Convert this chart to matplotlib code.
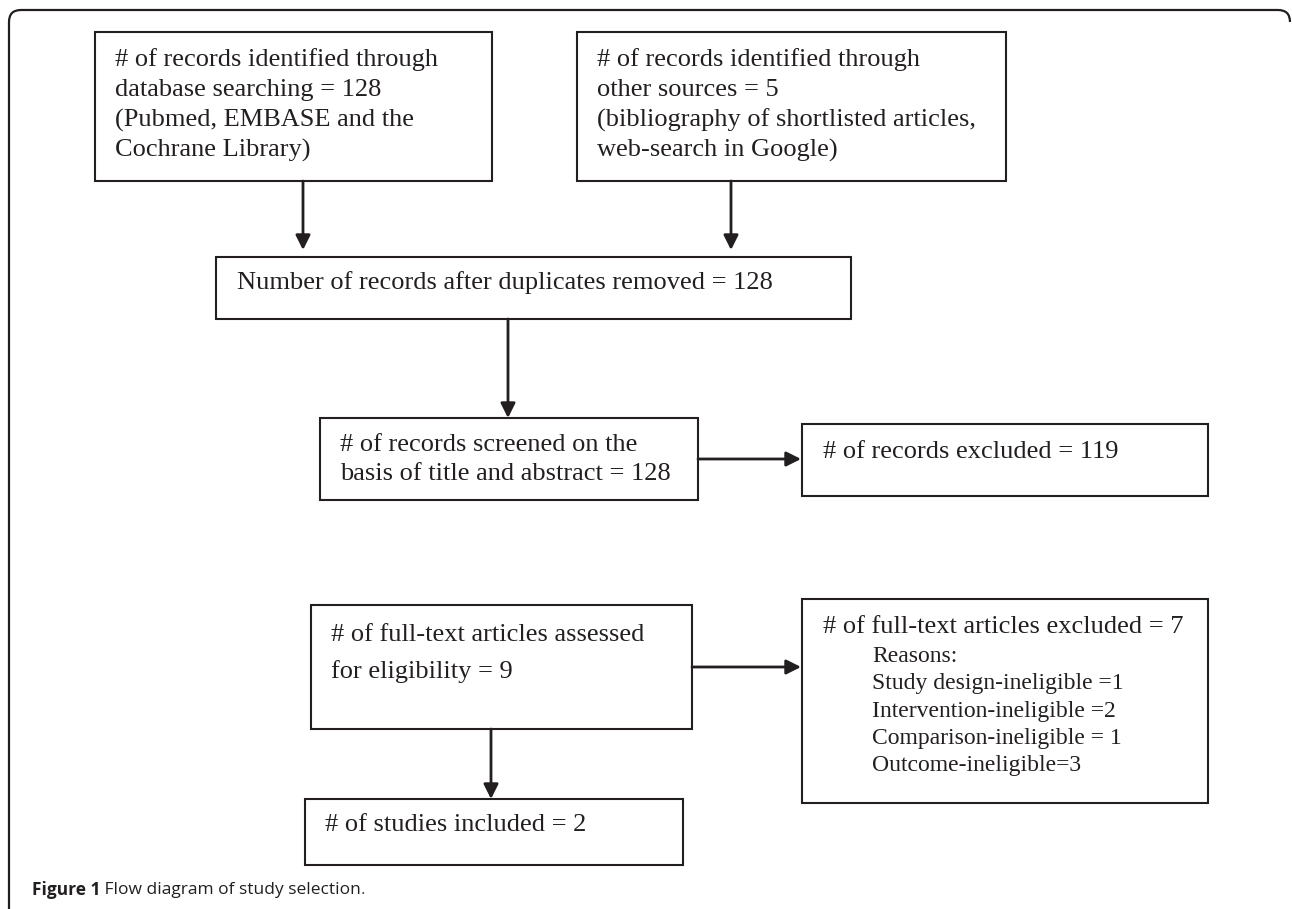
import matplotlib
matplotlib.use("Agg")
import matplotlib.pyplot as plt
from matplotlib.patches import Rectangle, FancyArrowPatch
from matplotlib.path import Path
from matplotlib.patches import PathPatch

# ---- content ----
box_db = ["# of records identified through", "database searching = 128",
          "(Pubmed, EMBASE and the", "Cochrane Library)"]
box_other = ["# of records identified through", "other sources = 5",
             "(bibliography of shortlisted articles,", "web-search in Google)"]
box_dup = ["Number of records after duplicates removed = 128"]
box_screen = ["# of records screened on the", "basis of title and abstract = 128"]
box_excl = ["# of records excluded = 119"]
box_full = ["# of full-text articles assessed", "for eligibility = 9"]
box_full_excl_head = "# of full-text articles excluded = 7"
box_full_excl_reasons = ["Reasons:", "Study design-ineligible =1",
                         "Intervention-ineligible =2",
                         "Comparison-ineligible = 1", "Outcome-ineligible=3"]
box_incl = ["# of studies included = 2"]
caption_bold = "Figure 1"
caption_rest = " Flow diagram of study selection"

# ---- layout (pixels) ----
W, H = 1292, 909
INK = "#231f20"
fig = plt.figure(figsize=(W / 100, H / 100), dpi=100)
ax = fig.add_axes([0, 0, 1, 1])
ax.set_xlim(0, W)
ax.set_ylim(H, 0)
ax.axis("off")

LW = 1.5
SERIF = "Liberation Serif"
FS = 19

def box(x0, y0, x1, y1):
    ax.add_patch(Rectangle((x0, y0), x1 - x0, y1 - y0, fill=False,
                           edgecolor=INK, linewidth=LW))

def lines(x, y0, texts, step=30, fs=FS):
    for i, t in enumerate(texts):
        ax.text(x, y0 + i * step, t, fontsize=fs, family=SERIF, color=INK,
                ha="left", va="center")

def arrow(x0, y0, x1, y1):
    ax.add_patch(FancyArrowPatch((x0, y0), (x1, y1), arrowstyle="-|>",
                                 mutation_scale=22, color=INK, linewidth=2.0,
                                 shrinkA=0, shrinkB=0))

# outer frame (rounded top corners, open bottom)
r = 12
verts = [(9, H), (9, 10 + r), (9, 10), (9 + r, 10), (W - r - 2, 10),
         (W - 2, 10), (W - 2, 10 + r)]
codes = [Path.MOVETO, Path.LINETO, Path.CURVE3, Path.CURVE3, Path.LINETO,
         Path.CURVE3, Path.CURVE3]
ax.add_patch(PathPatch(Path(verts, codes), fill=False, edgecolor=INK,
                       linewidth=1.6))

# boxes
box(95, 32, 492, 181)
lines(115, 60, box_db)
box(577, 32, 1006, 181)
lines(597, 60, box_other)
arrow(303, 181, 303, 250)
arrow(731, 181, 731, 250)

box(216, 257, 851, 319)
lines(237, 283, box_dup)
arrow(508, 319, 508, 418)

box(320, 418, 698, 500)
lines(340, 445, box_screen, step=29)
arrow(698, 459, 801, 459)
box(802, 424, 1208, 496)
lines(823, 452, box_excl)

box(311, 605, 692, 729)
lines(331, 635, box_full, step=37)
arrow(692, 667, 801, 667)
box(802, 599, 1208, 803)
lines(823, 627, [box_full_excl_head])
lines(872, 656, box_full_excl_reasons, step=27.5, fs=17)

arrow(491, 729, 491, 799)
box(305, 799, 683, 865)
lines(325, 825, box_incl)

# caption
CY = 890
t = ax.text(32, CY, caption_bold, fontsize=12.5, family="Open Sans",
            weight="bold", color=INK, ha="left", va="center")
fig.canvas.draw()
bb = t.get_window_extent()
x_end = ax.transData.inverted().transform((bb.x1, bb.y0))[0]
t2 = ax.text(x_end, CY, caption_rest, fontsize=12.5, family="Open Sans",
             color=INK, ha="left", va="center")
bb2 = t2.get_window_extent()
x_end2 = ax.transData.inverted().transform((bb2.x1, bb2.y0))[0]
ax.text(x_end2, CY, ".", fontsize=12.5, family="Open Sans", color="#555555",
        ha="left", va="center")

fig.savefig("out.png", dpi=100)
